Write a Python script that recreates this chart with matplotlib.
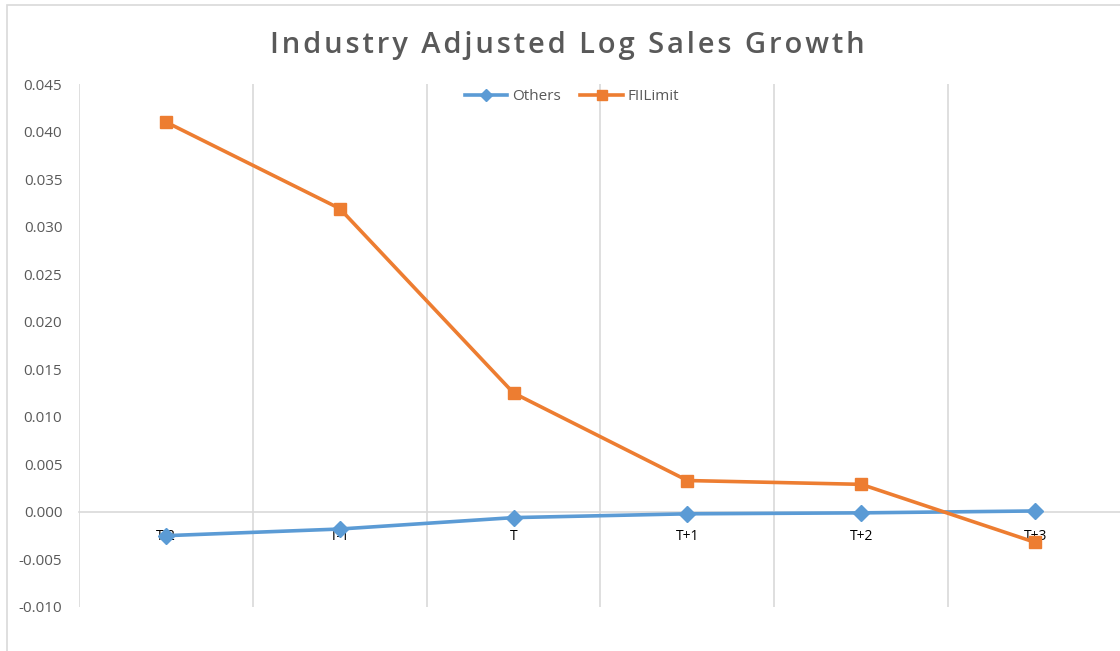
import matplotlib.pyplot as plt
from matplotlib.patches import Rectangle

periods = ["T-2", "T-1", "T", "T+1", "T+2", "T+3"]
others = [-0.0025, -0.0018, -0.0006, -0.0002, -0.0001, 0.0001]
fiilimit = [0.0410, 0.0319, 0.0125, 0.0033, 0.0029, -0.0032]
yticks = [-0.010, -0.005, 0.000, 0.005, 0.010, 0.015, 0.020, 0.025,
          0.030, 0.035, 0.040, 0.045]
title = "Industry Adjusted Log Sales Growth"

plt.rcParams['font.family'] = ['Open Sans', 'DejaVu Sans']

fig = plt.figure(figsize=(11.2, 6.51), dpi=100)
fig.patches.append(Rectangle((7 / 1120, -0.1), 1.2, 1.1 - 5 / 651,
                             transform=fig.transFigure, fill=False,
                             edgecolor='#D9D9D9', linewidth=1.2))

ax = fig.add_axes([79 / 1120, 1 - 607 / 651, 1043 / 1120, 523 / 651])
x = list(range(len(periods)))
ax.plot(x, others, color='#5B9BD5', linewidth=2.6, marker='D',
        markersize=8, label='Others', zorder=3)
ax.plot(x, fiilimit, color='#ED7D31', linewidth=2.6, marker='s',
        markersize=9, label='FIILimit', zorder=3)

ax.set_xlim(-0.5, 5.5)
ax.set_ylim(-0.010, 0.045)
ax.set_yticks(yticks)
ax.set_yticklabels([f"{v:.3f}" for v in yticks], color='#595959', fontsize=11)
ax.set_xticks(x)
ax.set_xticklabels(periods, color='#3A3A3A', fontsize=11.5)

for b in [v - 0.5 for v in range(len(periods) + 1)]:
    ax.axvline(b, color='#D9D9D9', linewidth=1.2, zorder=1)

for s in ['top', 'right', 'left']:
    ax.spines[s].set_visible(False)
ax.spines['bottom'].set_position(('data', 0))
ax.spines['bottom'].set_color('#D9D9D9')
ax.spines['bottom'].set_linewidth(1.2)
ax.tick_params(axis='both', length=0)
ax.tick_params(axis='y', pad=12)
ax.tick_params(axis='x', pad=12)

# letter-spaced title, like the Excel chart title
fig.text(567 / 1120, 1 - 45 / 651, "\u200a".join(title),
         ha='center', va='center', fontsize=21, fontweight='semibold',
         color='#595959')

ax.legend(loc='center', bbox_to_anchor=(493 / 1043, 1 - 13 / 523), ncol=2,
          frameon=False, fontsize=11, labelcolor='#595959',
          handlelength=2.8, columnspacing=1.3, handletextpad=0.3,
          markerscale=0.75)

fig.savefig('out.png', dpi=100)
